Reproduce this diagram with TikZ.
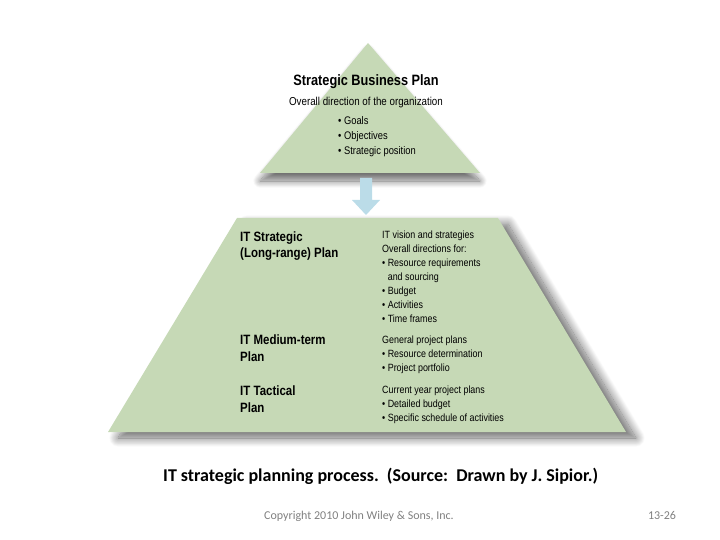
\documentclass[tikz,border=0pt]{standalone}
\usepackage{fontspec}
\usetikzlibrary{shadows.blur}
\newfontfamily\figfont{Liberation Sans}[FakeStretch=0.85]
\newfontfamily\capfont{Carlito}
\definecolor{plangreen}{HTML}{C6D9B6}
\definecolor{arrowblue}{HTML}{BBDCE8}
\definecolor{notegray}{HTML}{808080}
\tikzset{
  plan/.style={fill=plangreen, draw=none},
  head/.style={anchor=base west, inner sep=0pt, align=left, font=\figfont\bfseries\fontsize{13.5}{16.5}\selectfont},
  note/.style={anchor=base west, inner sep=0pt, align=left, font=\figfont\fontsize{10.5}{14}\selectfont},
}
\begin{document}
\begin{tikzpicture}[x=1pt,y=-1pt]
\useasboundingbox (0,0) rectangle (720,540);
% pyramid pieces
\fill[plan, blur shadow={shadow xshift=0pt, shadow yshift=-8pt, shadow blur radius=7pt, shadow blur steps=16, shadow opacity=55}]
  (368,43) -- (480,173) -- (260,173) -- cycle;
\fill[plan, blur shadow={shadow xshift=10pt, shadow yshift=-6pt, shadow blur radius=9pt, shadow blur steps=20, shadow opacity=60}]
  (237,218) -- (498,218) -- (626,432) -- (108,432) -- cycle;
% arrow between the plans
\fill[arrowblue] (360,178) -- (372,178) -- (372,200) -- (380,200) -- (366,215)
  -- (352,200) -- (360,200) -- cycle;
% top plan (multi-line nodes sit on their last baseline)
\node[anchor=base, inner sep=0pt, font=\figfont\bfseries\fontsize{15}{17}\selectfont] (sbp) at (366,86) {Strategic Business Plan};
\node[anchor=base, inner sep=0pt, font=\figfont\fontsize{11.5}{14}\selectfont] (dir) at (366,106) {Overall direction of the organization};
\node[note, font=\figfont\fontsize{11}{15}\selectfont] (goals) at (338,155) {\textbullet\ Goals\\\textbullet\ Objectives\\\textbullet\ Strategic position};
% IT plans
\node[head] (strat) at (240,258) {IT Strategic\\(Long-range) Plan};
\node[head] (medium) at (240,361) {IT Medium-term\\Plan};
\node[head] (tact) at (240,412) {IT Tactical\\Plan};
\node[note] (vision) at (382,322) {IT vision and strategies\\Overall directions for:\\\textbullet\ Resource requirements\\\phantom{\textbullet\ }and sourcing\\\textbullet\ Budget\\\textbullet\ Activities\\\textbullet\ Time frames};
\node[note] (general) at (382,371) {General project plans\\\textbullet\ Resource determination\\\textbullet\ Project portfolio};
\node[note] (current) at (382,421) {Current year project plans\\\textbullet\ Detailed budget\\\textbullet\ Specific schedule of activities};
% caption and footer
\node[anchor=base west, inner sep=0pt, font=\capfont\bfseries\fontsize{18}{21}\selectfont] (caption) at (163,481) {IT strategic planning process.\ \ (Source:\ \ Drawn by J. Sipior.)};
\node[anchor=base, inner sep=0pt, text=notegray, font=\capfont\fontsize{12}{14}\selectfont] (copy) at (359,519) {Copyright 2010 John Wiley \& Sons, Inc.};
\node[anchor=base, inner sep=0pt, text=notegray, font=\capfont\fontsize{12}{14}\selectfont] (page) at (662,519) {13-26};
\end{tikzpicture}
\end{document}
